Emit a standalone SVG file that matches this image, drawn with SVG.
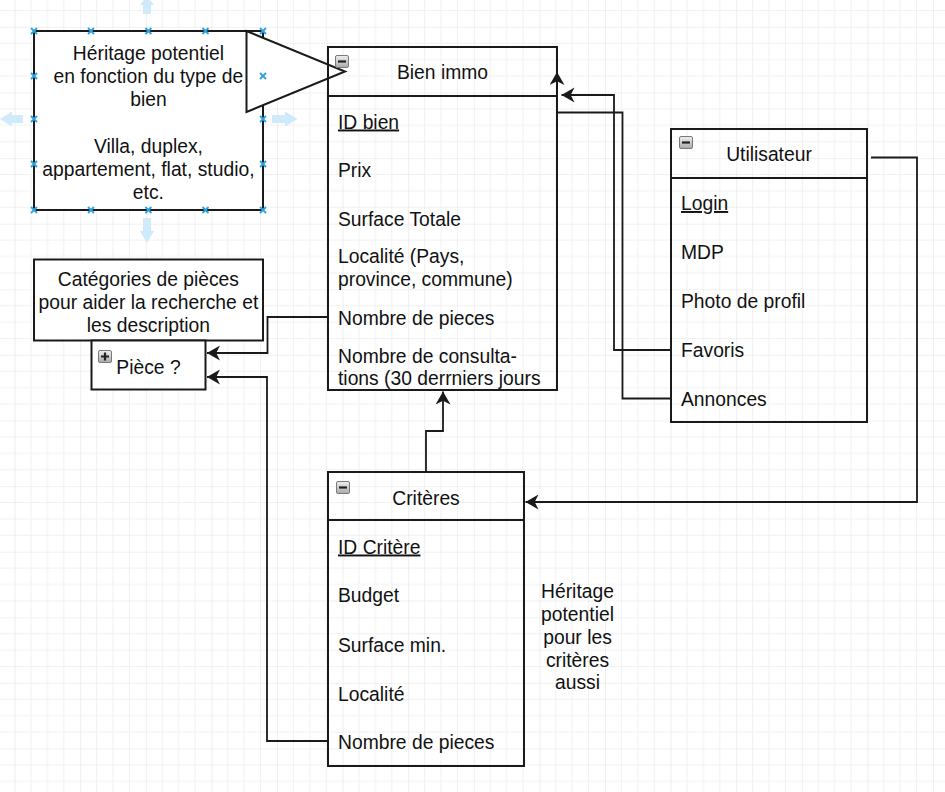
<svg xmlns="http://www.w3.org/2000/svg" width="945" height="792" viewBox="0 0 945 792">
<style>
text{font-family:"Liberation Sans",Arial,sans-serif;font-size:19.3px;fill:#111;}
.c{text-anchor:middle;}
.u{text-decoration:underline;}
.box{fill:none;stroke:#1a1a1a;stroke-width:2;}
.wbox{fill:#fff;stroke:#1a1a1a;stroke-width:2;}
.conn path{fill:none;stroke:#1a1a1a;stroke-width:1.8;}
.ghost{fill:#cfeafa;}
</style>
<defs>
<pattern id="grid" patternUnits="userSpaceOnUse" x="14.6" y="26.9" width="65.6" height="65.6">
<path d="M16.4 0V65.6M32.8 0V65.6M49.2 0V65.6M0 16.4H65.6M0 32.8H65.6M0 49.2H65.6" stroke="#f1f1f1" stroke-width="1" fill="none"/>
<path d="M0 0V65.6M0 0H65.6" stroke="#e4e4e4" stroke-width="1.2" fill="none"/>
</pattern>
<linearGradient id="ig" x1="0" y1="0" x2="0" y2="1">
<stop offset="0" stop-color="#f0f0f0"/>
<stop offset="1" stop-color="#a9a9a9"/>
</linearGradient>
<marker id="arr" markerUnits="userSpaceOnUse" markerWidth="16" markerHeight="16" refX="13" refY="7.5" orient="auto">
<path d="M0,0 L13,7.5 L0,15 L3.8,7.5 Z" fill="#1a1a1a"/>
</marker>
<g id="minus"><rect x="0.5" y="0.5" width="13" height="12" rx="1.5" fill="url(#ig)" stroke="#7a7a7a" stroke-width="1"/><path d="M3 6.5H11" stroke="#222" stroke-width="2.2"/></g>
<g id="plus"><rect x="0.5" y="0.5" width="13" height="12" rx="1.5" fill="url(#ig)" stroke="#7a7a7a" stroke-width="1"/><path d="M3 6.5H11M7 2.5V10.5" stroke="#222" stroke-width="2.2"/></g>
<g id="x"><path d="M-3,-3L3,3M-3,3L3,-3" stroke="#2aa3dd" stroke-width="1.8"/></g>
</defs>
<rect width="945" height="792" fill="#fff"/>
<rect width="945" height="792" fill="url(#grid)"/>

<g id="selection-hints">
<path class="ghost" d="M143,14 V5 H140 L147,-4 L154,5 H151 V14 Z"/>
<path class="ghost" d="M23,115 H12 V111.5 L0,119 L12,126.5 V123 H23 Z"/>
<path class="ghost" d="M272,115 H285 V111.5 L297.5,119 L285,126.5 V123 H272 Z"/>
<path class="ghost" d="M143,218 V231 H140 L147,243 L154,231 H151 V218 Z"/>
</g>

<g id="note-heritage">
<rect class="wbox" x="34" y="31" width="229" height="179"/>
<text class="c" x="148.4" y="60">Héritage potentiel</text>
<text class="c" x="148.4" y="83">en fonction du type de</text>
<text class="c" x="148.4" y="106">bien</text>
<text class="c" x="148.4" y="153">Villa, duplex,</text>
<text class="c" x="148.4" y="175.5">appartement, flat, studio,</text>
<text class="c" x="148.4" y="198.5">etc.</text>
</g>

<g id="triangle">
<polygon points="246.5,31 246.5,112 345,71.5" fill="#fff" stroke="#1a1a1a" stroke-width="2" stroke-linejoin="miter"/>
</g>

<g id="selection-marks">
<use href="#x" x="34" y="31"/><use href="#x" x="91" y="31"/><use href="#x" x="148.4" y="31"/><use href="#x" x="205.5" y="31"/><use href="#x" x="263" y="31"/>
<use href="#x" x="34" y="210"/><use href="#x" x="91" y="210"/><use href="#x" x="148.4" y="210"/><use href="#x" x="205.5" y="210"/><use href="#x" x="263" y="210"/>
<use href="#x" x="34" y="76"/><use href="#x" x="34" y="119"/><use href="#x" x="34" y="164"/>
<use href="#x" x="263" y="76"/><use href="#x" x="263" y="119"/><use href="#x" x="263" y="164"/>
</g>

<g id="bien-immo">
<rect class="box" x="328" y="47" width="229" height="343"/>
<path d="M328 96H557" stroke="#1a1a1a" stroke-width="2"/>
<use href="#minus" x="335" y="55"/>
<text class="c" x="442.5" y="79">Bien immo</text>
<text class="u" x="338" y="128.5">ID bien</text>
<text x="338" y="177">Prix</text>
<text x="338" y="226">Surface Totale</text>
<text x="338" y="263">Localité (Pays,</text>
<text x="338" y="286">province, commune)</text>
<text x="338" y="325">Nombre de pieces</text>
<text x="338" y="362.5">Nombre de consulta-</text>
<text x="338" y="385">tions (30 derrniers jours</text>
</g>

<g id="utilisateur">
<rect class="box" x="671" y="129" width="196" height="293"/>
<path d="M671 178H867" stroke="#1a1a1a" stroke-width="2"/>
<use href="#minus" x="679" y="136"/>
<text class="c" x="769" y="161">Utilisateur</text>
<text class="u" x="681" y="210">Login</text>
<text x="681" y="259">MDP</text>
<text x="681" y="308">Photo de profil</text>
<text x="681" y="357">Favoris</text>
<text x="681" y="405.5">Annonces</text>
</g>

<g id="criteres">
<rect class="box" x="328" y="472" width="196" height="294"/>
<path d="M328 520H524" stroke="#1a1a1a" stroke-width="2"/>
<use href="#minus" x="336" y="481"/>
<text class="c" x="426" y="504.5">Critères</text>
<text class="u" x="338" y="553.5">ID Critère</text>
<text x="338" y="602">Budget</text>
<text x="338" y="651.5">Surface min.</text>
<text x="338" y="700.5">Localité</text>
<text x="338" y="749">Nombre de pieces</text>
</g>

<g id="note-criteres">
<text class="c" x="577.5" y="597.5">Héritage</text>
<text class="c" x="577.5" y="620.5">potentiel</text>
<text class="c" x="577.5" y="643.5">pour les</text>
<text class="c" x="577.5" y="666.5">critères</text>
<text class="c" x="577.5" y="689">aussi</text>
</g>

<g id="categories">
<rect class="wbox" x="34" y="259.5" width="229" height="81"/>
<text class="c" x="148.4" y="286">Catégories de pièces</text>
<text class="c" x="148.4" y="308.5">pour aider la recherche et</text>
<text class="c" x="148.4" y="331.5">les description</text>
</g>

<g id="piece">
<rect class="wbox" x="91.5" y="340.5" width="114" height="49"/>
<use href="#plus" x="98" y="350"/>
<text class="c" x="148.5" y="373.5">Pièce ?</text>
</g>

<g id="connectors" class="conn">
<path d="M671,350 H614 V95 H561.5" marker-end="url(#arr)"/>
<path d="M671,398.5 H622.5 V112.5 H557 V72" marker-end="url(#arr)"/>
<path d="M871,157.5 H917 V502 H525.5" marker-end="url(#arr)"/>
<path d="M426,472 V431 H443 V391.5" marker-end="url(#arr)"/>
<path d="M328,317 H267.5 V353 H207" marker-end="url(#arr)"/>
<path d="M328,741 H267 V377 H207" marker-end="url(#arr)"/>
</g>
</svg>
